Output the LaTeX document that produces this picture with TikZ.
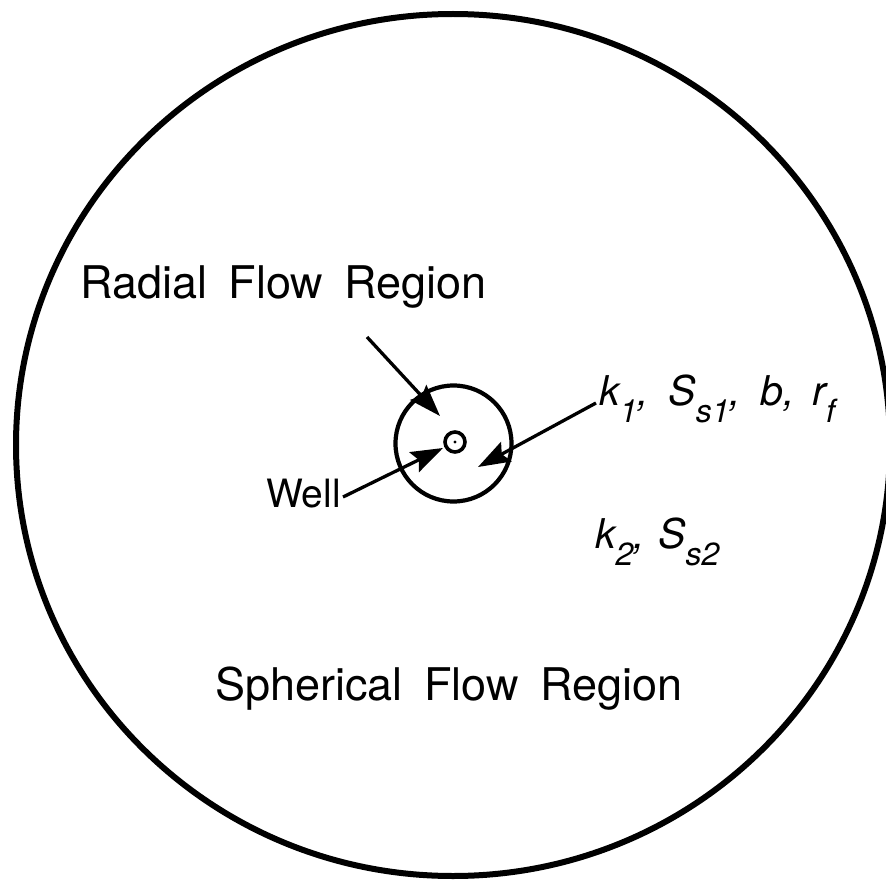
\documentclass[tikz,border=0pt]{standalone}
\usepackage{fontspec}
\setmainfont{TeX Gyre Heros}
\usetikzlibrary{arrows.meta}
\newcommand{\lsb}[1]{\raisebox{-0.42em}{\fontsize{32}{32}\selectfont\itshape #1}}
\begin{document}
\begin{tikzpicture}[x=1pt,y=-1pt,
  lbl/.style={inner sep=0pt, anchor=base west, font=\fontsize{45}{54}\selectfont},
  mlbl/.style={inner sep=0pt, anchor=base west, font=\fontsize{41}{48}\selectfont\itshape},
  arr/.style={line width=3.3pt, -{Stealth[length=32pt,width=22pt,inset=5pt]}}]
\useasboundingbox (0,0) rectangle (886,880);
% outer region
\draw[line width=6pt] (453,445) ellipse [x radius=437pt, y radius=431pt];
% radial flow region and well
\node[draw, circle, line width=4.2pt, minimum size=116pt, inner sep=0pt] (radzone) at (453.5,443.5) {};
\node[draw, circle, line width=3.6pt, minimum size=20pt, inner sep=0pt] (wellc) at (455,442) {};
\fill (wellc.center) circle [radius=1.6pt];
% labels
\node[lbl] (radial) at (80,298) {Radial\hspace{0.2em} Flow\hspace{0.2em} Region};
\node[lbl, font=\fontsize{39}{46}\selectfont] (well) at (266,507) {Well};
\node[mlbl] (k1) at (599,405) {k\lsb{1},\hspace{0.2em} S\lsb{s1},\hspace{0.2em} b,\hspace{0.15em} r\lsb{f}};
\node[mlbl] (k2) at (595,548) {k\lsb{2},\hspace{0.05em} S\lsb{s2}};
\node[lbl] (sph) at (215,700) {Spherical\hspace{0.2em} Flow\hspace{0.2em} Region};
% arrows
\coordinate (a1s) at (367,337);
\coordinate (a1e) at (440,416);
\coordinate (a2s) at (343,497);
\coordinate (a2e) at (443,448);
\coordinate (a3s) at (596,403);
\coordinate (a3e) at (478,467);
\draw[arr] (a1s) -- (a1e);
\draw[arr] (a2s) -- (a2e);
\draw[arr] (a3s) -- (a3e);
\end{tikzpicture}
\end{document}
